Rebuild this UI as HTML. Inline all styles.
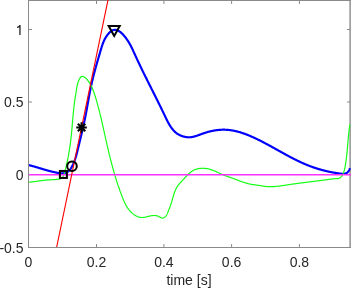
<!DOCTYPE html>
<html><head><meta charset="utf-8"><style>
html,body{margin:0;padding:0;background:#fff;width:351px;height:288px;overflow:hidden}
svg{display:block}
.t{will-change:transform}
text{font-family:"Liberation Sans",sans-serif;font-size:14px;fill:#262626}
</style></head><body>
<svg width="351" height="288" viewBox="0 0 351 288">
<defs><clipPath id="c"><rect x="29" y="0" width="322" height="247.5"/></clipPath></defs>
<g stroke="#8a8a8a" stroke-width="1" fill="none">
<path d="M28.5,0 V248 M28,0.5 H351 M28,247.5 H351"/>
<path d="M350.1,0 V248" stroke-width="1.4"/>
<path d="M96.5,247 V244 M163.9,247 V244 M231.6,247 V244 M299.4,247 V244"/>
<path d="M96.5,1 V4 M163.9,1 V4 M231.6,1 V4 M299.4,1 V4"/>
<path d="M29,29.5 H32 M29,102 H32 M29,174.5 H32"/>
<path d="M350,29.5 H347 M350,102 H347 M350,174.5 H347"/>
</g>
<g clip-path="url(#c)">
<path d="M27.41,164.74 L27.82,164.84 L28.23,164.94 L28.64,165.04 L29.05,165.15 L29.45,165.25 L29.85,165.35 L30.25,165.46 L30.65,165.56 L31.05,165.67 L31.44,165.77 L31.84,165.88 L32.23,165.99 L32.62,166.10 L33.01,166.20 L33.40,166.31 L33.78,166.42 L34.17,166.53 L34.55,166.64 L34.93,166.75 L35.32,166.86 L35.70,166.97 L36.08,167.08 L36.45,167.20 L36.83,167.31 L37.21,167.42 L37.58,167.53 L37.96,167.64 L38.34,167.75 L38.71,167.87 L39.08,167.98 L39.46,168.09 L39.83,168.20 L40.20,168.32 L40.58,168.43 L40.95,168.54 L41.32,168.65 L41.69,168.76 L42.07,168.87 L42.44,168.99 L42.81,169.10 L43.18,169.21 L43.56,169.32 L43.93,169.43 L44.31,169.54 L44.68,169.65 L45.05,169.76 L45.43,169.87 L45.81,169.98 L46.18,170.08 L46.56,170.19 L46.94,170.30 L47.32,170.40 L47.70,170.51 L48.08,170.61 L48.46,170.72 L48.85,170.82 L49.23,170.93 L49.62,171.03 L50.00,171.13 L50.39,171.23 L50.78,171.33 L51.17,171.43 L51.57,171.53 L51.96,171.63 L52.36,171.72 L52.76,171.82 L53.16,171.91 L53.56,172.01 L53.96,172.10 L54.37,172.19 L54.78,172.28 L55.19,172.37 L55.60,172.46 L56.01,172.55 L56.43,172.63 L56.84,172.71 L57.26,172.79 L57.67,172.86 L58.09,172.93 L58.51,173.00 L58.92,173.06 L59.34,173.11 L59.75,173.16 L60.16,173.20 L60.57,173.23 L60.98,173.26 L61.39,173.28 L61.79,173.29 L62.19,173.29 L62.59,173.28 L62.98,173.26 L63.37,173.23 L63.75,173.19 L64.13,173.14 L64.50,173.07 L64.87,173.00 L65.23,172.91 L65.59,172.81 L65.94,172.69 L66.29,172.56 L66.62,172.41 L66.95,172.25 L67.27,172.08 L67.59,171.88 L67.89,171.67 L68.19,171.45 L68.48,171.21 L68.77,170.95 L69.04,170.69 L69.31,170.41 L69.57,170.11 L69.82,169.81 L70.07,169.50 L70.31,169.18 L70.55,168.85 L70.78,168.51 L71.00,168.16 L71.22,167.81 L71.43,167.45 L71.64,167.09 L71.84,166.73 L72.04,166.36 L72.23,166.00 L72.42,165.63 L72.60,165.26 L72.78,164.89 L72.96,164.52 L73.13,164.15 L73.30,163.77 L73.47,163.40 L73.63,163.03 L73.79,162.65 L73.94,162.28 L74.10,161.90 L74.24,161.53 L74.39,161.15 L74.53,160.77 L74.67,160.40 L74.81,160.02 L74.94,159.64 L75.07,159.26 L75.20,158.88 L75.32,158.50 L75.45,158.12 L75.57,157.74 L75.69,157.36 L75.80,156.98 L75.92,156.59 L76.03,156.21 L76.14,155.83 L76.25,155.45 L76.36,155.06 L76.46,154.68 L76.57,154.29 L76.67,153.91 L76.77,153.53 L76.87,153.14 L76.97,152.76 L77.07,152.37 L77.17,151.98 L77.26,151.60 L77.36,151.21 L77.45,150.83 L77.55,150.44 L77.64,150.05 L77.74,149.67 L77.83,149.28 L77.92,148.89 L78.01,148.51 L78.11,148.12 L78.20,147.73 L78.29,147.35 L78.39,146.96 L78.48,146.57 L78.57,146.19 L78.67,145.80 L78.76,145.41 L78.85,145.02 L78.95,144.64 L79.04,144.25 L79.14,143.86 L79.23,143.47 L79.32,143.09 L79.42,142.70 L79.51,142.31 L79.61,141.92 L79.70,141.53 L79.79,141.15 L79.89,140.76 L79.98,140.37 L80.07,139.98 L80.17,139.59 L80.26,139.21 L80.36,138.82 L80.45,138.43 L80.54,138.04 L80.64,137.65 L80.73,137.26 L80.82,136.88 L80.92,136.49 L81.01,136.10 L81.10,135.71 L81.19,135.32 L81.29,134.93 L81.38,134.54 L81.47,134.15 L81.56,133.76 L81.66,133.38 L81.75,132.99 L81.84,132.60 L81.93,132.21 L82.02,131.82 L82.11,131.43 L82.20,131.04 L82.29,130.65 L82.39,130.26 L82.48,129.87 L82.57,129.48 L82.65,129.09 L82.74,128.70 L82.83,128.31 L82.92,127.92 L83.01,127.53 L83.10,127.14 L83.19,126.75 L83.28,126.36 L83.36,125.97 L83.45,125.58 L83.54,125.18 L83.62,124.79 L83.71,124.40 L83.79,124.01 L83.88,123.62 L83.97,123.23 L84.05,122.84 L84.13,122.45 L84.22,122.05 L84.30,121.66 L84.38,121.27 L84.47,120.88 L84.55,120.49 L84.63,120.09 L84.71,119.70 L84.79,119.31 L84.87,118.92 L84.95,118.53 L85.03,118.13 L85.11,117.74 L85.19,117.35 L85.27,116.95 L85.35,116.56 L85.43,116.17 L85.50,115.78 L85.58,115.38 L85.66,114.99 L85.73,114.60 L85.81,114.20 L85.88,113.81 L85.96,113.42 L86.03,113.02 L86.11,112.63 L86.18,112.23 L86.25,111.84 L86.33,111.45 L86.40,111.05 L86.47,110.66 L86.54,110.27 L86.62,109.87 L86.69,109.48 L86.76,109.08 L86.83,108.69 L86.90,108.30 L86.98,107.90 L87.05,107.51 L87.12,107.11 L87.19,106.72 L87.26,106.32 L87.33,105.93 L87.40,105.54 L87.47,105.14 L87.54,104.75 L87.61,104.35 L87.68,103.96 L87.75,103.57 L87.83,103.17 L87.90,102.78 L87.97,102.38 L88.04,101.99 L88.11,101.59 L88.18,101.20 L88.25,100.81 L88.32,100.41 L88.39,100.02 L88.46,99.62 L88.53,99.23 L88.60,98.84 L88.68,98.44 L88.75,98.05 L88.82,97.66 L88.89,97.26 L88.96,96.87 L89.04,96.47 L89.11,96.08 L89.18,95.69 L89.25,95.29 L89.33,94.90 L89.40,94.51 L89.47,94.11 L89.55,93.72 L89.62,93.33 L89.70,92.94 L89.77,92.54 L89.85,92.15 L89.92,91.76 L90.00,91.36 L90.08,90.97 L90.15,90.58 L90.23,90.19 L90.31,89.80 L90.39,89.40 L90.47,89.01 L90.54,88.62 L90.62,88.23 L90.70,87.84 L90.78,87.45 L90.87,87.05 L90.95,86.66 L91.03,86.27 L91.11,85.88 L91.20,85.49 L91.28,85.10 L91.36,84.71 L91.45,84.32 L91.53,83.93 L91.62,83.54 L91.71,83.15 L91.79,82.76 L91.88,82.37 L91.97,81.98 L92.06,81.59 L92.15,81.20 L92.24,80.81 L92.33,80.43 L92.43,80.04 L92.52,79.65 L92.61,79.26 L92.71,78.87 L92.80,78.48 L92.90,78.10 L92.99,77.71 L93.09,77.32 L93.18,76.93 L93.28,76.55 L93.38,76.16 L93.48,75.77 L93.58,75.39 L93.68,75.00 L93.78,74.61 L93.88,74.23 L93.98,73.84 L94.08,73.45 L94.18,73.07 L94.29,72.68 L94.39,72.30 L94.49,71.91 L94.59,71.52 L94.70,71.14 L94.80,70.75 L94.91,70.37 L95.01,69.98 L95.12,69.60 L95.23,69.21 L95.33,68.83 L95.44,68.44 L95.54,68.06 L95.65,67.67 L95.76,67.29 L95.87,66.90 L95.98,66.52 L96.08,66.13 L96.19,65.75 L96.30,65.36 L96.41,64.98 L96.52,64.59 L96.63,64.21 L96.74,63.82 L96.85,63.44 L96.96,63.05 L97.07,62.67 L97.18,62.28 L97.29,61.90 L97.40,61.52 L97.51,61.13 L97.62,60.75 L97.74,60.36 L97.85,59.98 L97.96,59.59 L98.07,59.21 L98.18,58.82 L98.29,58.44 L98.40,58.05 L98.52,57.67 L98.63,57.28 L98.74,56.90 L98.85,56.52 L98.96,56.13 L99.07,55.75 L99.19,55.36 L99.30,54.98 L99.41,54.59 L99.52,54.21 L99.63,53.82 L99.74,53.44 L99.85,53.05 L99.97,52.67 L100.08,52.28 L100.19,51.89 L100.30,51.51 L100.41,51.12 L100.52,50.74 L100.63,50.35 L100.74,49.97 L100.86,49.58 L100.97,49.20 L101.08,48.81 L101.20,48.43 L101.32,48.05 L101.43,47.66 L101.55,47.28 L101.67,46.90 L101.79,46.52 L101.92,46.14 L102.04,45.76 L102.17,45.38 L102.30,45.00 L102.44,44.62 L102.57,44.24 L102.71,43.87 L102.85,43.49 L102.99,43.12 L103.14,42.75 L103.29,42.38 L103.45,42.01 L103.60,41.64 L103.76,41.27 L103.93,40.90 L104.10,40.54 L104.27,40.18 L104.45,39.81 L104.63,39.45 L104.81,39.10 L105.00,38.74 L105.20,38.38 L105.40,38.03 L105.60,37.68 L105.81,37.33 L106.03,36.98 L106.25,36.64 L106.47,36.29 L106.71,35.95 L106.94,35.61 L107.19,35.28 L107.44,34.94 L107.69,34.61 L107.96,34.28 L108.22,33.96 L108.50,33.65 L108.77,33.34 L109.05,33.03 L109.34,32.74 L109.63,32.45 L109.93,32.18 L110.23,31.92 L110.53,31.66 L110.84,31.42 L111.15,31.20 L111.46,30.98 L111.78,30.78 L112.10,30.60 L112.42,30.44 L112.74,30.29 L113.07,30.16 L113.40,30.05 L113.73,29.96 L114.06,29.89 L114.39,29.84 L114.72,29.82 L115.06,29.81 L115.39,29.83 L115.73,29.86 L116.07,29.92 L116.40,29.99 L116.74,30.09 L117.08,30.20 L117.41,30.32 L117.75,30.47 L118.08,30.63 L118.42,30.80 L118.75,30.99 L119.08,31.19 L119.41,31.40 L119.74,31.63 L120.07,31.87 L120.40,32.12 L120.72,32.38 L121.04,32.65 L121.36,32.93 L121.68,33.22 L121.99,33.52 L122.30,33.82 L122.61,34.13 L122.92,34.45 L123.22,34.77 L123.52,35.09 L123.81,35.43 L124.10,35.76 L124.39,36.10 L124.67,36.44 L124.95,36.78 L125.22,37.12 L125.49,37.46 L125.75,37.81 L126.01,38.15 L126.27,38.50 L126.52,38.84 L126.76,39.19 L127.01,39.53 L127.25,39.88 L127.48,40.23 L127.71,40.58 L127.94,40.93 L128.16,41.28 L128.38,41.63 L128.60,41.98 L128.81,42.33 L129.03,42.68 L129.23,43.03 L129.44,43.39 L129.64,43.74 L129.84,44.09 L130.04,44.45 L130.23,44.80 L130.42,45.15 L130.61,45.51 L130.80,45.86 L130.98,46.22 L131.16,46.57 L131.34,46.93 L131.52,47.29 L131.70,47.64 L131.88,48.00 L132.05,48.36 L132.22,48.71 L132.39,49.07 L132.56,49.43 L132.73,49.79 L132.90,50.14 L133.07,50.50 L133.23,50.86 L133.40,51.22 L133.56,51.58 L133.72,51.94 L133.89,52.29 L134.05,52.65 L134.21,53.01 L134.38,53.37 L134.54,53.73 L134.70,54.09 L134.86,54.44 L135.03,54.80 L135.19,55.16 L135.35,55.52 L135.52,55.88 L135.68,56.23 L135.84,56.59 L136.01,56.95 L136.17,57.31 L136.34,57.67 L136.50,58.02 L136.67,58.38 L136.83,58.74 L137.00,59.10 L137.17,59.45 L137.33,59.81 L137.50,60.17 L137.67,60.53 L137.84,60.88 L138.00,61.24 L138.17,61.60 L138.34,61.96 L138.51,62.31 L138.68,62.67 L138.85,63.03 L139.02,63.38 L139.19,63.74 L139.36,64.10 L139.53,64.46 L139.70,64.81 L139.87,65.17 L140.04,65.53 L140.21,65.88 L140.38,66.24 L140.55,66.60 L140.72,66.95 L140.89,67.31 L141.07,67.67 L141.24,68.02 L141.41,68.38 L141.58,68.74 L141.76,69.09 L141.93,69.45 L142.10,69.81 L142.28,70.16 L142.45,70.52 L142.62,70.88 L142.80,71.23 L142.97,71.59 L143.15,71.95 L143.32,72.30 L143.50,72.66 L143.67,73.02 L143.85,73.37 L144.02,73.73 L144.20,74.09 L144.37,74.44 L144.55,74.80 L144.72,75.16 L144.90,75.51 L145.08,75.87 L145.25,76.23 L145.43,76.58 L145.61,76.94 L145.78,77.30 L145.96,77.65 L146.14,78.01 L146.31,78.37 L146.49,78.72 L146.67,79.08 L146.85,79.44 L147.02,79.79 L147.20,80.15 L147.38,80.51 L147.56,80.86 L147.73,81.22 L147.91,81.58 L148.09,81.94 L148.27,82.29 L148.45,82.65 L148.63,83.01 L148.81,83.36 L148.98,83.72 L149.16,84.08 L149.34,84.44 L149.52,84.79 L149.70,85.15 L149.88,85.51 L150.06,85.87 L150.24,86.22 L150.42,86.58 L150.60,86.94 L150.78,87.30 L150.96,87.66 L151.14,88.01 L151.31,88.37 L151.49,88.73 L151.67,89.09 L151.85,89.45 L152.03,89.80 L152.21,90.16 L152.39,90.52 L152.57,90.88 L152.75,91.24 L152.93,91.60 L153.11,91.96 L153.29,92.31 L153.47,92.67 L153.65,93.03 L153.83,93.39 L154.01,93.75 L154.19,94.11 L154.37,94.47 L154.55,94.83 L154.73,95.19 L154.91,95.55 L155.09,95.91 L155.27,96.27 L155.45,96.63 L155.63,96.99 L155.81,97.35 L155.99,97.71 L156.17,98.07 L156.35,98.43 L156.53,98.79 L156.71,99.15 L156.89,99.51 L157.07,99.87 L157.25,100.23 L157.43,100.59 L157.61,100.95 L157.79,101.31 L157.97,101.68 L158.15,102.04 L158.33,102.40 L158.51,102.76 L158.69,103.12 L158.87,103.48 L159.05,103.85 L159.23,104.21 L159.41,104.57 L159.59,104.93 L159.76,105.30 L159.94,105.66 L160.12,106.02 L160.30,106.38 L160.48,106.75 L160.66,107.11 L160.84,107.47 L161.01,107.84 L161.19,108.20 L161.37,108.57 L161.55,108.93 L161.73,109.29 L161.90,109.66 L162.08,110.02 L162.26,110.39 L162.44,110.75 L162.61,111.12 L162.79,111.48 L162.97,111.85 L163.14,112.21 L163.32,112.58 L163.50,112.94 L163.67,113.31 L163.85,113.67 L164.03,114.04 L164.20,114.41 L164.38,114.77 L164.55,115.14 L164.73,115.51 L164.90,115.87 L165.08,116.24 L165.25,116.61 L165.43,116.98 L165.61,117.34 L165.78,117.71 L165.96,118.08 L166.13,118.44 L166.31,118.81 L166.49,119.17 L166.67,119.54 L166.85,119.90 L167.03,120.26 L167.21,120.62 L167.39,120.98 L167.57,121.34 L167.76,121.70 L167.94,122.06 L168.13,122.41 L168.32,122.76 L168.51,123.11 L168.71,123.46 L168.90,123.81 L169.10,124.16 L169.30,124.50 L169.50,124.84 L169.70,125.18 L169.91,125.51 L170.12,125.85 L170.33,126.18 L170.54,126.51 L170.76,126.83 L170.98,127.15 L171.20,127.47 L171.43,127.79 L171.66,128.10 L171.89,128.41 L172.13,128.72 L172.37,129.02 L172.61,129.32 L172.86,129.61 L173.11,129.90 L173.36,130.19 L173.62,130.47 L173.88,130.75 L174.15,131.03 L174.42,131.30 L174.70,131.56 L174.98,131.82 L175.27,132.08 L175.56,132.33 L175.85,132.58 L176.15,132.82 L176.45,133.06 L176.76,133.29 L177.08,133.52 L177.40,133.74 L177.73,133.95 L178.06,134.16 L178.39,134.37 L178.74,134.57 L179.09,134.76 L179.44,134.94 L179.80,135.13 L180.17,135.30 L180.54,135.47 L180.92,135.63 L181.30,135.78 L181.69,135.93 L182.08,136.07 L182.48,136.21 L182.87,136.33 L183.28,136.45 L183.68,136.57 L184.09,136.67 L184.50,136.77 L184.91,136.86 L185.32,136.94 L185.73,137.01 L186.14,137.07 L186.55,137.13 L186.97,137.18 L187.38,137.22 L187.79,137.25 L188.19,137.27 L188.60,137.28 L189.00,137.28 L189.40,137.27 L189.80,137.26 L190.20,137.23 L190.59,137.20 L190.98,137.16 L191.37,137.11 L191.76,137.06 L192.15,136.99 L192.53,136.93 L192.92,136.85 L193.30,136.77 L193.68,136.68 L194.06,136.59 L194.44,136.49 L194.81,136.39 L195.19,136.28 L195.56,136.17 L195.94,136.05 L196.31,135.93 L196.68,135.81 L197.06,135.68 L197.43,135.55 L197.80,135.42 L198.17,135.29 L198.54,135.15 L198.92,135.02 L199.29,134.88 L199.66,134.74 L200.03,134.60 L200.40,134.46 L200.78,134.32 L201.15,134.18 L201.53,134.04 L201.90,133.90 L202.28,133.76 L202.65,133.62 L203.03,133.48 L203.41,133.35 L203.79,133.22 L204.17,133.09 L204.55,132.96 L204.94,132.84 L205.32,132.71 L205.71,132.59 L206.09,132.47 L206.48,132.36 L206.87,132.24 L207.26,132.13 L207.65,132.02 L208.04,131.91 L208.43,131.80 L208.82,131.70 L209.22,131.60 L209.61,131.50 L210.00,131.40 L210.40,131.31 L210.80,131.22 L211.19,131.13 L211.59,131.04 L211.99,130.96 L212.38,130.88 L212.78,130.80 L213.18,130.72 L213.58,130.65 L213.98,130.58 L214.38,130.51 L214.78,130.44 L215.18,130.38 L215.58,130.32 L215.98,130.26 L216.38,130.20 L216.78,130.15 L217.19,130.10 L217.59,130.05 L217.99,130.01 L218.39,129.97 L218.79,129.93 L219.19,129.90 L219.60,129.86 L220.00,129.83 L220.40,129.81 L220.80,129.78 L221.20,129.76 L221.60,129.75 L222.00,129.73 L222.40,129.72 L222.80,129.71 L223.20,129.71 L223.60,129.71 L224.00,129.71 L224.40,129.71 L224.80,129.72 L225.20,129.73 L225.60,129.75 L225.99,129.76 L226.39,129.79 L226.79,129.81 L227.18,129.84 L227.58,129.87 L227.97,129.90 L228.37,129.94 L228.76,129.98 L229.15,130.02 L229.55,130.06 L229.94,130.11 L230.33,130.16 L230.73,130.22 L231.12,130.27 L231.51,130.33 L231.90,130.39 L232.29,130.46 L232.68,130.52 L233.07,130.59 L233.46,130.67 L233.85,130.74 L234.23,130.82 L234.62,130.90 L235.01,130.98 L235.39,131.07 L235.78,131.15 L236.17,131.24 L236.55,131.34 L236.94,131.43 L237.32,131.53 L237.71,131.63 L238.09,131.73 L238.47,131.83 L238.86,131.94 L239.24,132.05 L239.62,132.16 L240.00,132.27 L240.38,132.38 L240.76,132.50 L241.14,132.61 L241.52,132.73 L241.90,132.86 L242.28,132.98 L242.66,133.11 L243.04,133.23 L243.41,133.36 L243.79,133.49 L244.17,133.63 L244.54,133.76 L244.92,133.90 L245.29,134.03 L245.67,134.17 L246.04,134.31 L246.42,134.46 L246.79,134.60 L247.16,134.75 L247.54,134.89 L247.91,135.04 L248.28,135.19 L248.65,135.34 L249.02,135.49 L249.39,135.65 L249.76,135.80 L250.13,135.96 L250.50,136.12 L250.87,136.27 L251.24,136.43 L251.61,136.59 L251.97,136.76 L252.34,136.92 L252.71,137.08 L253.07,137.25 L253.44,137.41 L253.80,137.58 L254.17,137.75 L254.53,137.91 L254.89,138.08 L255.26,138.25 L255.62,138.42 L255.98,138.60 L256.35,138.77 L256.71,138.94 L257.07,139.12 L257.43,139.29 L257.79,139.47 L258.15,139.64 L258.51,139.82 L258.87,139.99 L259.23,140.17 L259.58,140.35 L259.94,140.53 L260.30,140.71 L260.66,140.89 L261.01,141.07 L261.37,141.25 L261.73,141.44 L262.08,141.62 L262.44,141.80 L262.80,141.99 L263.15,142.17 L263.51,142.35 L263.86,142.54 L264.21,142.73 L264.57,142.91 L264.92,143.10 L265.28,143.29 L265.63,143.47 L265.98,143.66 L266.33,143.85 L266.69,144.04 L267.04,144.23 L267.39,144.42 L267.74,144.61 L268.10,144.80 L268.45,144.99 L268.80,145.18 L269.15,145.37 L269.50,145.56 L269.85,145.75 L270.20,145.95 L270.55,146.14 L270.90,146.33 L271.25,146.52 L271.60,146.72 L271.95,146.91 L272.30,147.10 L272.65,147.30 L273.00,147.49 L273.35,147.69 L273.70,147.88 L274.05,148.07 L274.40,148.27 L274.75,148.46 L275.10,148.66 L275.45,148.85 L275.79,149.05 L276.14,149.24 L276.49,149.44 L276.84,149.63 L277.19,149.83 L277.54,150.02 L277.89,150.21 L278.24,150.41 L278.59,150.60 L278.93,150.80 L279.28,150.99 L279.63,151.19 L279.98,151.38 L280.33,151.58 L280.68,151.77 L281.03,151.97 L281.38,152.16 L281.72,152.35 L282.07,152.55 L282.42,152.74 L282.77,152.93 L283.12,153.13 L283.47,153.32 L283.82,153.51 L284.17,153.71 L284.52,153.90 L284.87,154.09 L285.22,154.28 L285.57,154.47 L285.92,154.66 L286.27,154.86 L286.62,155.05 L286.97,155.24 L287.32,155.43 L287.67,155.62 L288.02,155.80 L288.38,155.99 L288.73,156.18 L289.08,156.37 L289.43,156.56 L289.78,156.74 L290.14,156.93 L290.49,157.12 L290.84,157.30 L291.19,157.49 L291.55,157.67 L291.90,157.86 L292.26,158.04 L292.61,158.22 L292.96,158.41 L293.32,158.59 L293.67,158.77 L294.03,158.95 L294.38,159.13 L294.74,159.31 L295.10,159.49 L295.45,159.67 L295.81,159.84 L296.17,160.02 L296.53,160.20 L296.88,160.37 L297.24,160.55 L297.60,160.72 L297.96,160.90 L298.32,161.07 L298.68,161.24 L299.04,161.41 L299.40,161.58 L299.76,161.75 L300.12,161.92 L300.48,162.09 L300.84,162.26 L301.21,162.42 L301.57,162.59 L301.93,162.75 L302.30,162.92 L302.66,163.08 L303.03,163.24 L303.39,163.40 L303.76,163.56 L304.12,163.72 L304.49,163.88 L304.86,164.04 L305.23,164.20 L305.59,164.35 L305.96,164.51 L306.33,164.66 L306.70,164.81 L307.07,164.96 L307.44,165.11 L307.81,165.26 L308.19,165.41 L308.56,165.56 L308.93,165.70 L309.31,165.85 L309.68,165.99 L310.06,166.13 L310.43,166.28 L310.81,166.42 L311.18,166.55 L311.56,166.69 L311.94,166.83 L312.32,166.97 L312.70,167.10 L313.07,167.23 L313.45,167.36 L313.83,167.50 L314.22,167.63 L314.60,167.75 L314.98,167.88 L315.36,168.01 L315.74,168.13 L316.13,168.26 L316.51,168.38 L316.89,168.50 L317.28,168.62 L317.66,168.74 L318.05,168.86 L318.43,168.98 L318.82,169.09 L319.21,169.21 L319.59,169.32 L319.98,169.43 L320.37,169.54 L320.75,169.65 L321.14,169.76 L321.53,169.87 L321.92,169.98 L322.31,170.08 L322.70,170.19 L323.09,170.29 L323.48,170.39 L323.87,170.49 L324.26,170.59 L324.65,170.69 L325.04,170.79 L325.43,170.88 L325.82,170.98 L326.21,171.07 L326.60,171.16 L326.99,171.25 L327.38,171.34 L327.78,171.43 L328.17,171.52 L328.56,171.60 L328.95,171.69 L329.34,171.77 L329.74,171.85 L330.13,171.94 L330.52,172.02 L330.91,172.09 L331.31,172.17 L331.70,172.25 L332.09,172.32 L332.49,172.40 L332.88,172.47 L333.27,172.54 L333.66,172.61 L334.06,172.68 L334.45,172.75 L334.84,172.82 L335.24,172.88 L335.63,172.94 L336.02,173.01 L336.41,173.07 L336.81,173.13 L337.20,173.19 L337.59,173.25 L337.98,173.30 L338.38,173.36 L338.77,173.41 L339.16,173.47 L339.55,173.52 L339.94,173.57 L340.34,173.62 L340.73,173.67 L341.12,173.71 L341.51,173.75 L341.89,173.78 L342.28,173.81 L342.66,173.82 L343.04,173.83 L343.41,173.82 L343.78,173.80 L344.15,173.77 L344.51,173.72 L344.87,173.65 L345.22,173.57 L345.57,173.46 L345.91,173.34 L346.24,173.19 L346.56,173.01 L346.88,172.82 L347.18,172.59 L347.48,172.34 L347.77,172.06 L348.05,171.76 L348.32,171.42 L348.58,171.06 L348.83,170.67 L349.06,170.25 L349.29,169.80 L349.50,169.32 L349.69,168.81 L349.88,168.28 L349.91,168.19" fill="none" stroke="#0000ff" stroke-width="2.2" stroke-linejoin="round"/>
<path d="M27.51,182.42 L27.90,182.38 L28.29,182.34 L28.69,182.30 L29.08,182.26 L29.47,182.21 L29.87,182.17 L30.26,182.12 L30.66,182.07 L31.05,182.02 L31.45,181.97 L31.84,181.92 L32.24,181.87 L32.64,181.82 L33.03,181.76 L33.43,181.71 L33.83,181.66 L34.23,181.60 L34.62,181.55 L35.02,181.49 L35.42,181.44 L35.82,181.38 L36.22,181.33 L36.62,181.27 L37.02,181.22 L37.41,181.16 L37.81,181.11 L38.21,181.05 L38.61,181.00 L39.01,180.94 L39.41,180.89 L39.81,180.84 L40.21,180.78 L40.61,180.73 L41.01,180.68 L41.41,180.63 L41.81,180.58 L42.21,180.53 L42.61,180.48 L43.01,180.43 L43.40,180.39 L43.80,180.34 L44.20,180.30 L44.60,180.25 L45.00,180.21 L45.40,180.17 L45.79,180.13 L46.19,180.10 L46.59,180.06 L46.98,180.03 L47.38,179.99 L47.78,179.96 L48.17,179.93 L48.57,179.91 L48.96,179.88 L49.36,179.86 L49.75,179.84 L50.14,179.82 L50.54,179.80 L50.93,179.78 L51.33,179.76 L51.72,179.74 L52.12,179.73 L52.51,179.71 L52.91,179.69 L53.30,179.67 L53.70,179.65 L54.10,179.63 L54.50,179.60 L54.90,179.58 L55.30,179.55 L55.70,179.52 L56.10,179.48 L56.51,179.44 L56.92,179.40 L57.33,179.36 L57.74,179.31 L58.15,179.26 L58.56,179.20 L58.97,179.13 L59.38,179.06 L59.78,178.96 L60.16,178.85 L60.54,178.72 L60.89,178.57 L61.22,178.39 L61.53,178.18 L61.83,177.95 L62.10,177.70 L62.35,177.42 L62.59,177.12 L62.81,176.81 L63.02,176.48 L63.21,176.13 L63.39,175.78 L63.56,175.40 L63.71,175.02 L63.86,174.64 L64.00,174.24 L64.14,173.84 L64.27,173.44 L64.39,173.03 L64.51,172.63 L64.62,172.22 L64.74,171.82 L64.85,171.43 L64.96,171.03 L65.07,170.63 L65.18,170.24 L65.28,169.85 L65.39,169.46 L65.49,169.07 L65.59,168.68 L65.69,168.29 L65.78,167.91 L65.88,167.52 L65.98,167.14 L66.07,166.75 L66.16,166.37 L66.25,165.99 L66.34,165.60 L66.43,165.22 L66.52,164.84 L66.61,164.45 L66.70,164.07 L66.78,163.68 L66.87,163.30 L66.95,162.91 L67.04,162.52 L67.12,162.14 L67.21,161.75 L67.29,161.36 L67.37,160.98 L67.45,160.59 L67.53,160.20 L67.61,159.81 L67.69,159.42 L67.77,159.03 L67.85,158.64 L67.92,158.25 L68.00,157.86 L68.08,157.47 L68.15,157.08 L68.23,156.69 L68.30,156.30 L68.37,155.90 L68.45,155.51 L68.52,155.12 L68.59,154.73 L68.66,154.33 L68.73,153.94 L68.80,153.55 L68.87,153.15 L68.93,152.76 L69.00,152.36 L69.07,151.97 L69.13,151.57 L69.20,151.18 L69.26,150.78 L69.33,150.39 L69.39,149.99 L69.45,149.60 L69.52,149.20 L69.58,148.81 L69.64,148.41 L69.70,148.01 L69.76,147.62 L69.82,147.22 L69.88,146.82 L69.93,146.43 L69.99,146.03 L70.05,145.63 L70.10,145.23 L70.16,144.84 L70.21,144.44 L70.27,144.04 L70.32,143.64 L70.37,143.25 L70.42,142.85 L70.48,142.45 L70.53,142.05 L70.58,141.65 L70.63,141.26 L70.68,140.86 L70.72,140.46 L70.77,140.06 L70.82,139.66 L70.87,139.26 L70.91,138.87 L70.96,138.47 L71.00,138.07 L71.05,137.67 L71.09,137.27 L71.13,136.87 L71.18,136.47 L71.22,136.08 L71.26,135.68 L71.30,135.28 L71.34,134.88 L71.38,134.48 L71.42,134.08 L71.46,133.68 L71.50,133.29 L71.54,132.89 L71.58,132.49 L71.62,132.09 L71.66,131.69 L71.70,131.29 L71.73,130.89 L71.77,130.50 L71.81,130.10 L71.84,129.70 L71.88,129.30 L71.92,128.90 L71.95,128.50 L71.99,128.10 L72.02,127.71 L72.06,127.31 L72.09,126.91 L72.13,126.51 L72.16,126.11 L72.20,125.71 L72.23,125.31 L72.27,124.92 L72.30,124.52 L72.33,124.12 L72.37,123.72 L72.40,123.32 L72.44,122.92 L72.47,122.52 L72.51,122.13 L72.54,121.73 L72.57,121.33 L72.61,120.93 L72.64,120.53 L72.68,120.13 L72.71,119.74 L72.75,119.34 L72.78,118.94 L72.82,118.54 L72.85,118.14 L72.89,117.75 L72.92,117.35 L72.96,116.95 L72.99,116.55 L73.03,116.15 L73.07,115.76 L73.10,115.36 L73.14,114.96 L73.18,114.56 L73.21,114.16 L73.25,113.77 L73.29,113.37 L73.33,112.97 L73.36,112.57 L73.40,112.18 L73.44,111.78 L73.48,111.38 L73.52,110.98 L73.56,110.59 L73.60,110.19 L73.64,109.79 L73.69,109.40 L73.73,109.00 L73.77,108.60 L73.81,108.20 L73.86,107.81 L73.90,107.41 L73.95,107.01 L73.99,106.62 L74.04,106.22 L74.08,105.82 L74.13,105.43 L74.18,105.03 L74.23,104.63 L74.28,104.24 L74.32,103.84 L74.37,103.45 L74.43,103.05 L74.48,102.65 L74.53,102.26 L74.58,101.86 L74.64,101.47 L74.69,101.07 L74.75,100.68 L74.80,100.28 L74.86,99.88 L74.92,99.49 L74.97,99.09 L75.03,98.70 L75.09,98.30 L75.15,97.91 L75.21,97.51 L75.27,97.12 L75.34,96.72 L75.40,96.33 L75.46,95.93 L75.52,95.54 L75.59,95.14 L75.65,94.75 L75.71,94.35 L75.78,93.96 L75.84,93.56 L75.91,93.17 L75.97,92.77 L76.04,92.38 L76.10,91.98 L76.17,91.59 L76.23,91.19 L76.30,90.80 L76.36,90.40 L76.43,90.01 L76.49,89.61 L76.56,89.21 L76.62,88.82 L76.69,88.42 L76.75,88.03 L76.82,87.63 L76.89,87.24 L76.96,86.84 L77.04,86.45 L77.12,86.05 L77.20,85.66 L77.28,85.27 L77.37,84.88 L77.46,84.49 L77.56,84.10 L77.66,83.71 L77.76,83.33 L77.87,82.94 L77.99,82.56 L78.12,82.18 L78.25,81.80 L78.38,81.42 L78.53,81.04 L78.68,80.67 L78.84,80.30 L79.00,79.93 L79.18,79.56 L79.36,79.19 L79.55,78.83 L79.76,78.47 L79.97,78.12 L80.20,77.79 L80.44,77.49 L80.69,77.21 L80.97,76.96 L81.25,76.76 L81.56,76.59 L81.89,76.48 L82.24,76.43 L82.61,76.43 L82.99,76.49 L83.38,76.59 L83.76,76.74 L84.14,76.92 L84.50,77.14 L84.86,77.38 L85.21,77.64 L85.54,77.93 L85.86,78.22 L86.17,78.52 L86.46,78.82 L86.75,79.12 L87.02,79.42 L87.28,79.73 L87.53,80.04 L87.78,80.36 L88.02,80.67 L88.26,80.99 L88.49,81.31 L88.71,81.63 L88.94,81.96 L89.16,82.29 L89.37,82.62 L89.58,82.95 L89.79,83.29 L89.99,83.63 L90.19,83.97 L90.38,84.31 L90.57,84.66 L90.76,85.01 L90.94,85.36 L91.12,85.71 L91.30,86.06 L91.47,86.42 L91.65,86.77 L91.81,87.13 L91.98,87.49 L92.14,87.86 L92.30,88.22 L92.46,88.58 L92.61,88.95 L92.76,89.32 L92.91,89.69 L93.06,90.06 L93.20,90.43 L93.34,90.81 L93.48,91.18 L93.62,91.56 L93.76,91.93 L93.89,92.31 L94.02,92.69 L94.15,93.07 L94.28,93.45 L94.41,93.83 L94.54,94.21 L94.66,94.59 L94.78,94.97 L94.91,95.36 L95.03,95.74 L95.15,96.12 L95.27,96.51 L95.39,96.89 L95.50,97.28 L95.62,97.66 L95.74,98.05 L95.85,98.43 L95.97,98.82 L96.08,99.20 L96.20,99.59 L96.31,99.97 L96.42,100.36 L96.53,100.74 L96.65,101.13 L96.76,101.51 L96.87,101.90 L96.98,102.29 L97.08,102.67 L97.19,103.06 L97.30,103.44 L97.41,103.83 L97.52,104.22 L97.62,104.60 L97.73,104.99 L97.83,105.38 L97.94,105.76 L98.04,106.15 L98.15,106.54 L98.25,106.92 L98.35,107.31 L98.45,107.70 L98.56,108.09 L98.66,108.47 L98.76,108.86 L98.86,109.25 L98.96,109.64 L99.06,110.02 L99.16,110.41 L99.26,110.80 L99.35,111.19 L99.45,111.58 L99.55,111.96 L99.65,112.35 L99.74,112.74 L99.84,113.13 L99.94,113.52 L100.03,113.91 L100.13,114.29 L100.22,114.68 L100.32,115.07 L100.41,115.46 L100.50,115.85 L100.60,116.24 L100.69,116.63 L100.78,117.02 L100.88,117.41 L100.97,117.79 L101.06,118.18 L101.15,118.57 L101.24,118.96 L101.33,119.35 L101.43,119.74 L101.52,120.13 L101.61,120.52 L101.70,120.91 L101.79,121.30 L101.88,121.69 L101.97,122.08 L102.05,122.47 L102.14,122.86 L102.23,123.25 L102.32,123.64 L102.41,124.03 L102.50,124.42 L102.59,124.80 L102.67,125.19 L102.76,125.58 L102.85,125.97 L102.94,126.36 L103.02,126.75 L103.11,127.14 L103.20,127.53 L103.29,127.92 L103.37,128.31 L103.46,128.70 L103.55,129.09 L103.63,129.48 L103.72,129.87 L103.81,130.26 L103.89,130.65 L103.98,131.04 L104.07,131.43 L104.15,131.82 L104.24,132.21 L104.32,132.60 L104.41,132.99 L104.50,133.38 L104.58,133.77 L104.67,134.16 L104.76,134.55 L104.84,134.94 L104.93,135.33 L105.01,135.72 L105.10,136.11 L105.19,136.50 L105.27,136.89 L105.36,137.28 L105.45,137.67 L105.53,138.06 L105.62,138.45 L105.71,138.84 L105.79,139.23 L105.88,139.62 L105.97,140.01 L106.06,140.40 L106.14,140.79 L106.23,141.18 L106.32,141.57 L106.41,141.96 L106.49,142.35 L106.58,142.74 L106.67,143.13 L106.76,143.52 L106.85,143.91 L106.94,144.30 L107.02,144.69 L107.11,145.08 L107.20,145.47 L107.29,145.86 L107.38,146.25 L107.47,146.63 L107.56,147.02 L107.65,147.41 L107.74,147.80 L107.83,148.19 L107.92,148.58 L108.01,148.97 L108.11,149.36 L108.20,149.75 L108.29,150.14 L108.38,150.52 L108.47,150.91 L108.56,151.30 L108.66,151.69 L108.75,152.08 L108.84,152.47 L108.94,152.86 L109.03,153.25 L109.12,153.63 L109.22,154.02 L109.31,154.41 L109.41,154.80 L109.50,155.19 L109.60,155.58 L109.69,155.97 L109.79,156.35 L109.88,156.74 L109.98,157.13 L110.08,157.52 L110.17,157.91 L110.27,158.29 L110.37,158.68 L110.47,159.07 L110.56,159.46 L110.66,159.85 L110.76,160.23 L110.86,160.62 L110.96,161.01 L111.06,161.40 L111.16,161.79 L111.26,162.17 L111.36,162.56 L111.46,162.95 L111.56,163.34 L111.66,163.72 L111.77,164.11 L111.87,164.50 L111.97,164.89 L112.07,165.27 L112.18,165.66 L112.28,166.05 L112.39,166.43 L112.49,166.82 L112.60,167.21 L112.70,167.60 L112.81,167.98 L112.91,168.37 L113.02,168.76 L113.13,169.14 L113.23,169.53 L113.34,169.92 L113.45,170.30 L113.56,170.69 L113.67,171.08 L113.78,171.46 L113.89,171.85 L114.00,172.24 L114.11,172.62 L114.22,173.01 L114.33,173.39 L114.44,173.78 L114.56,174.17 L114.67,174.55 L114.78,174.94 L114.90,175.32 L115.01,175.71 L115.13,176.09 L115.24,176.47 L115.36,176.86 L115.47,177.24 L115.59,177.63 L115.71,178.01 L115.83,178.39 L115.94,178.77 L116.06,179.16 L116.18,179.54 L116.30,179.92 L116.42,180.30 L116.54,180.68 L116.66,181.06 L116.78,181.44 L116.90,181.82 L117.03,182.20 L117.15,182.58 L117.27,182.95 L117.40,183.33 L117.52,183.71 L117.65,184.08 L117.77,184.46 L117.90,184.83 L118.02,185.21 L118.15,185.58 L118.28,185.96 L118.41,186.33 L118.53,186.70 L118.66,187.08 L118.79,187.45 L118.92,187.82 L119.05,188.19 L119.18,188.57 L119.32,188.94 L119.45,189.31 L119.58,189.68 L119.71,190.06 L119.85,190.43 L119.98,190.80 L120.12,191.17 L120.25,191.55 L120.39,191.92 L120.52,192.30 L120.66,192.67 L120.80,193.05 L120.94,193.42 L121.08,193.80 L121.21,194.17 L121.35,194.55 L121.49,194.93 L121.64,195.31 L121.78,195.69 L121.92,196.07 L122.07,196.45 L122.21,196.83 L122.36,197.20 L122.51,197.58 L122.65,197.96 L122.80,198.34 L122.96,198.72 L123.11,199.10 L123.27,199.47 L123.42,199.85 L123.58,200.22 L123.74,200.60 L123.91,200.97 L124.07,201.34 L124.24,201.72 L124.41,202.08 L124.58,202.45 L124.75,202.82 L124.93,203.18 L125.11,203.55 L125.29,203.91 L125.47,204.27 L125.66,204.62 L125.85,204.98 L126.05,205.33 L126.24,205.68 L126.44,206.03 L126.65,206.38 L126.85,206.72 L127.06,207.06 L127.27,207.40 L127.49,207.73 L127.71,208.06 L127.94,208.39 L128.16,208.72 L128.40,209.04 L128.63,209.35 L128.87,209.67 L129.12,209.98 L129.37,210.29 L129.62,210.59 L129.88,210.89 L130.14,211.19 L130.40,211.48 L130.68,211.76 L130.95,212.05 L131.23,212.32 L131.52,212.60 L131.81,212.87 L132.10,213.13 L132.40,213.39 L132.71,213.64 L133.02,213.89 L133.34,214.14 L133.66,214.38 L133.99,214.61 L134.32,214.84 L134.66,215.06 L135.01,215.28 L135.36,215.49 L135.71,215.69 L136.07,215.88 L136.43,216.07 L136.80,216.25 L137.17,216.41 L137.55,216.57 L137.93,216.72 L138.31,216.86 L138.69,216.98 L139.08,217.09 L139.47,217.19 L139.86,217.28 L140.25,217.35 L140.64,217.41 L141.04,217.46 L141.43,217.49 L141.83,217.50 L142.23,217.50 L142.62,217.48 L143.02,217.46 L143.42,217.42 L143.82,217.37 L144.22,217.31 L144.62,217.24 L145.02,217.17 L145.41,217.09 L145.81,217.00 L146.21,216.91 L146.61,216.81 L147.01,216.71 L147.41,216.61 L147.81,216.51 L148.21,216.41 L148.61,216.31 L149.00,216.22 L149.40,216.12 L149.80,216.03 L150.19,215.95 L150.59,215.86 L150.98,215.79 L151.38,215.72 L151.77,215.66 L152.17,215.60 L152.56,215.56 L152.95,215.52 L153.35,215.49 L153.74,215.48 L154.13,215.47 L154.52,215.48 L154.91,215.49 L155.30,215.53 L155.68,215.57 L156.07,215.63 L156.46,215.71 L156.84,215.80 L157.23,215.90 L157.61,216.03 L158.00,216.17 L158.38,216.33 L158.76,216.51 L159.14,216.71 L159.52,216.91 L159.90,217.11 L160.28,217.31 L160.66,217.50 L161.03,217.67 L161.41,217.82 L161.78,217.93 L162.15,218.01 L162.52,218.05 L162.89,218.03 L163.26,217.97 L163.62,217.86 L163.97,217.70 L164.32,217.51 L164.65,217.28 L164.97,217.03 L165.28,216.75 L165.57,216.45 L165.84,216.14 L166.09,215.82 L166.33,215.48 L166.54,215.14 L166.75,214.78 L166.94,214.42 L167.12,214.05 L167.29,213.67 L167.45,213.29 L167.61,212.91 L167.76,212.52 L167.90,212.13 L168.04,211.75 L168.18,211.36 L168.32,210.98 L168.46,210.60 L168.60,210.23 L168.75,209.86 L168.89,209.49 L169.04,209.12 L169.19,208.76 L169.33,208.40 L169.48,208.05 L169.63,207.69 L169.77,207.33 L169.92,206.97 L170.06,206.61 L170.20,206.25 L170.34,205.89 L170.47,205.52 L170.60,205.15 L170.73,204.78 L170.86,204.41 L170.99,204.03 L171.11,203.65 L171.23,203.27 L171.35,202.89 L171.47,202.51 L171.58,202.12 L171.70,201.73 L171.81,201.34 L171.93,200.95 L172.04,200.56 L172.15,200.17 L172.26,199.78 L172.38,199.39 L172.49,198.99 L172.60,198.60 L172.71,198.20 L172.82,197.81 L172.94,197.41 L173.05,197.02 L173.17,196.62 L173.28,196.23 L173.40,195.84 L173.52,195.45 L173.64,195.05 L173.76,194.66 L173.88,194.27 L174.01,193.89 L174.14,193.50 L174.27,193.12 L174.41,192.73 L174.54,192.35 L174.68,191.97 L174.82,191.59 L174.97,191.22 L175.12,190.85 L175.27,190.48 L175.43,190.11 L175.59,189.75 L175.76,189.39 L175.93,189.03 L176.10,188.67 L176.28,188.32 L176.46,187.97 L176.65,187.63 L176.85,187.29 L177.05,186.95 L177.25,186.62 L177.46,186.29 L177.68,185.97 L177.90,185.65 L178.13,185.34 L178.36,185.02 L178.60,184.72 L178.84,184.41 L179.09,184.11 L179.34,183.81 L179.60,183.52 L179.86,183.22 L180.12,182.93 L180.38,182.64 L180.65,182.34 L180.92,182.05 L181.19,181.76 L181.47,181.47 L181.74,181.18 L182.02,180.89 L182.30,180.60 L182.57,180.30 L182.85,180.01 L183.13,179.71 L183.41,179.41 L183.68,179.10 L183.96,178.80 L184.24,178.50 L184.51,178.19 L184.79,177.89 L185.07,177.58 L185.35,177.27 L185.63,176.97 L185.91,176.67 L186.19,176.36 L186.48,176.06 L186.76,175.76 L187.05,175.46 L187.34,175.17 L187.63,174.88 L187.92,174.59 L188.21,174.30 L188.51,174.02 L188.80,173.74 L189.10,173.47 L189.41,173.20 L189.71,172.93 L190.02,172.67 L190.33,172.42 L190.64,172.17 L190.96,171.93 L191.28,171.69 L191.60,171.46 L191.93,171.24 L192.26,171.02 L192.59,170.82 L192.93,170.62 L193.27,170.43 L193.62,170.25 L193.97,170.07 L194.32,169.91 L194.68,169.75 L195.04,169.60 L195.40,169.46 L195.77,169.33 L196.14,169.21 L196.52,169.09 L196.89,168.99 L197.27,168.89 L197.65,168.79 L198.04,168.71 L198.42,168.63 L198.81,168.56 L199.20,168.50 L199.60,168.45 L199.99,168.40 L200.39,168.36 L200.78,168.33 L201.18,168.30 L201.58,168.28 L201.98,168.27 L202.38,168.27 L202.79,168.27 L203.19,168.28 L203.59,168.29 L203.99,168.31 L204.40,168.34 L204.80,168.37 L205.20,168.41 L205.61,168.46 L206.01,168.51 L206.41,168.57 L206.81,168.63 L207.21,168.70 L207.61,168.77 L208.01,168.85 L208.41,168.94 L208.80,169.03 L209.19,169.12 L209.59,169.23 L209.98,169.33 L210.36,169.44 L210.75,169.56 L211.13,169.68 L211.51,169.81 L211.89,169.94 L212.27,170.07 L212.65,170.21 L213.02,170.35 L213.39,170.49 L213.76,170.64 L214.13,170.79 L214.50,170.94 L214.87,171.10 L215.24,171.26 L215.60,171.42 L215.97,171.58 L216.33,171.74 L216.70,171.91 L217.06,172.08 L217.42,172.24 L217.78,172.41 L218.14,172.58 L218.51,172.75 L218.87,172.92 L219.23,173.09 L219.59,173.26 L219.95,173.43 L220.31,173.59 L220.68,173.76 L221.04,173.93 L221.40,174.09 L221.77,174.25 L222.13,174.42 L222.50,174.57 L222.86,174.73 L223.23,174.89 L223.60,175.04 L223.97,175.19 L224.34,175.33 L224.71,175.48 L225.09,175.62 L225.46,175.75 L225.84,175.89 L226.21,176.03 L226.59,176.16 L226.97,176.29 L227.35,176.42 L227.72,176.55 L228.10,176.68 L228.48,176.81 L228.86,176.94 L229.24,177.07 L229.62,177.20 L230.00,177.33 L230.38,177.46 L230.76,177.59 L231.14,177.73 L231.51,177.86 L231.89,178.00 L232.27,178.14 L232.64,178.27 L233.02,178.41 L233.40,178.55 L233.77,178.69 L234.15,178.83 L234.53,178.98 L234.90,179.12 L235.28,179.26 L235.65,179.40 L236.03,179.55 L236.40,179.69 L236.78,179.83 L237.15,179.98 L237.53,180.12 L237.90,180.26 L238.28,180.40 L238.65,180.54 L239.03,180.69 L239.40,180.83 L239.78,180.97 L240.15,181.10 L240.53,181.24 L240.91,181.38 L241.28,181.51 L241.66,181.65 L242.04,181.78 L242.41,181.91 L242.79,182.04 L243.17,182.17 L243.55,182.30 L243.93,182.42 L244.31,182.55 L244.69,182.67 L245.07,182.79 L245.45,182.90 L245.83,183.02 L246.21,183.13 L246.59,183.24 L246.98,183.35 L247.36,183.45 L247.74,183.56 L248.13,183.66 L248.51,183.75 L248.90,183.85 L249.29,183.94 L249.68,184.02 L250.06,184.11 L250.45,184.19 L250.84,184.27 L251.23,184.34 L251.63,184.41 L252.02,184.48 L252.41,184.54 L252.81,184.60 L253.20,184.66 L253.60,184.71 L254.00,184.77 L254.39,184.82 L254.79,184.87 L255.19,184.92 L255.59,184.97 L255.98,185.02 L256.38,185.07 L256.78,185.12 L257.18,185.18 L257.58,185.23 L257.98,185.28 L258.38,185.34 L258.78,185.39 L259.18,185.45 L259.58,185.51 L259.97,185.58 L260.37,185.64 L260.77,185.71 L261.17,185.78 L261.57,185.85 L261.96,185.92 L262.36,186.00 L262.76,186.06 L263.16,186.13 L263.56,186.19 L263.95,186.25 L264.35,186.30 L264.75,186.35 L265.15,186.40 L265.54,186.44 L265.94,186.48 L266.34,186.52 L266.74,186.55 L267.14,186.58 L267.53,186.60 L267.93,186.62 L268.33,186.64 L268.73,186.65 L269.13,186.66 L269.52,186.67 L269.92,186.67 L270.32,186.67 L270.72,186.67 L271.12,186.67 L271.51,186.66 L271.91,186.65 L272.31,186.64 L272.71,186.62 L273.11,186.60 L273.50,186.58 L273.90,186.56 L274.30,186.54 L274.70,186.51 L275.10,186.48 L275.49,186.45 L275.89,186.41 L276.29,186.38 L276.69,186.34 L277.09,186.30 L277.48,186.26 L277.88,186.22 L278.28,186.17 L278.68,186.13 L279.08,186.08 L279.47,186.03 L279.87,185.98 L280.27,185.93 L280.67,185.88 L281.07,185.82 L281.46,185.77 L281.86,185.71 L282.26,185.66 L282.66,185.60 L283.05,185.54 L283.45,185.48 L283.85,185.42 L284.25,185.36 L284.64,185.30 L285.04,185.24 L285.44,185.18 L285.83,185.12 L286.23,185.06 L286.63,185.00 L287.02,184.94 L287.42,184.88 L287.82,184.82 L288.21,184.75 L288.61,184.69 L289.01,184.63 L289.40,184.57 L289.80,184.51 L290.20,184.46 L290.59,184.40 L290.99,184.34 L291.38,184.28 L291.78,184.22 L292.18,184.17 L292.57,184.11 L292.97,184.05 L293.36,184.00 L293.76,183.94 L294.16,183.89 L294.55,183.83 L294.95,183.78 L295.34,183.72 L295.74,183.67 L296.13,183.62 L296.53,183.56 L296.92,183.51 L297.32,183.46 L297.71,183.41 L298.11,183.35 L298.51,183.30 L298.90,183.25 L299.30,183.20 L299.69,183.15 L300.09,183.10 L300.48,183.05 L300.88,182.99 L301.27,182.94 L301.67,182.89 L302.07,182.84 L302.46,182.79 L302.86,182.74 L303.25,182.69 L303.65,182.65 L304.04,182.60 L304.44,182.55 L304.84,182.50 L305.23,182.45 L305.63,182.40 L306.02,182.35 L306.42,182.30 L306.82,182.25 L307.21,182.20 L307.61,182.16 L308.00,182.11 L308.40,182.06 L308.80,182.01 L309.19,181.96 L309.59,181.91 L309.99,181.86 L310.38,181.81 L310.78,181.77 L311.18,181.72 L311.58,181.67 L311.97,181.62 L312.37,181.57 L312.77,181.52 L313.17,181.47 L313.56,181.42 L313.96,181.37 L314.36,181.32 L314.76,181.27 L315.16,181.23 L315.56,181.18 L315.96,181.13 L316.35,181.08 L316.75,181.02 L317.15,180.97 L317.55,180.92 L317.95,180.87 L318.35,180.82 L318.75,180.77 L319.15,180.72 L319.55,180.67 L319.94,180.62 L320.34,180.57 L320.74,180.51 L321.14,180.46 L321.54,180.41 L321.94,180.36 L322.33,180.31 L322.73,180.25 L323.13,180.20 L323.53,180.15 L323.92,180.10 L324.32,180.04 L324.72,179.99 L325.11,179.94 L325.51,179.88 L325.90,179.83 L326.30,179.78 L326.69,179.72 L327.08,179.67 L327.48,179.61 L327.87,179.56 L328.26,179.50 L328.65,179.45 L329.04,179.39 L329.43,179.34 L329.82,179.28 L330.21,179.23 L330.60,179.17 L330.99,179.12 L331.38,179.07 L331.77,179.02 L332.16,178.97 L332.55,178.92 L332.95,178.88 L333.35,178.84 L333.75,178.80 L334.15,178.77 L334.56,178.75 L334.97,178.73 L335.39,178.72 L335.81,178.71 L336.23,178.70 L336.65,178.68 L337.07,178.66 L337.48,178.62 L337.88,178.57 L338.28,178.50 L338.66,178.40 L339.03,178.28 L339.39,178.12 L339.73,177.94 L340.05,177.73 L340.36,177.49 L340.66,177.24 L340.95,176.96 L341.22,176.67 L341.48,176.37 L341.72,176.05 L341.96,175.73 L342.18,175.40 L342.39,175.06 L342.59,174.72 L342.78,174.37 L342.96,174.02 L343.13,173.66 L343.29,173.30 L343.44,172.94 L343.59,172.57 L343.72,172.19 L343.85,171.82 L343.98,171.44 L344.09,171.05 L344.20,170.67 L344.31,170.28 L344.40,169.89 L344.50,169.50 L344.59,169.11 L344.68,168.71 L344.76,168.32 L344.84,167.92 L344.92,167.53 L345.00,167.13 L345.07,166.73 L345.15,166.34 L345.22,165.94 L345.29,165.54 L345.36,165.15 L345.43,164.75 L345.50,164.35 L345.56,163.96 L345.63,163.56 L345.69,163.16 L345.75,162.76 L345.81,162.37 L345.87,161.97 L345.93,161.57 L345.99,161.18 L346.04,160.78 L346.10,160.38 L346.15,159.99 L346.21,159.59 L346.26,159.19 L346.31,158.79 L346.36,158.40 L346.41,158.00 L346.45,157.60 L346.50,157.21 L346.55,156.81 L346.59,156.41 L346.64,156.01 L346.68,155.62 L346.72,155.22 L346.77,154.82 L346.81,154.42 L346.85,154.03 L346.89,153.63 L346.93,153.23 L346.97,152.84 L347.01,152.44 L347.04,152.04 L347.08,151.64 L347.12,151.25 L347.15,150.85 L347.19,150.45 L347.23,150.05 L347.26,149.66 L347.30,149.26 L347.33,148.86 L347.37,148.46 L347.40,148.07 L347.43,147.67 L347.47,147.27 L347.50,146.87 L347.53,146.47 L347.57,146.08 L347.60,145.68 L347.63,145.28 L347.67,144.88 L347.70,144.49 L347.73,144.09 L347.76,143.69 L347.80,143.29 L347.83,142.90 L347.86,142.50 L347.90,142.10 L347.93,141.70 L347.96,141.30 L348.00,140.91 L348.03,140.51 L348.07,140.11 L348.10,139.71 L348.14,139.32 L348.17,138.92 L348.21,138.52 L348.24,138.12 L348.28,137.73 L348.32,137.33 L348.35,136.93 L348.39,136.53 L348.43,136.13 L348.47,135.74 L348.51,135.34 L348.55,134.94 L348.59,134.54 L348.63,134.15 L348.68,133.75 L348.72,133.35 L348.76,132.95 L348.81,132.56 L348.85,132.16 L348.90,131.76 L348.95,131.36 L348.99,130.96 L349.04,130.57 L349.09,130.17 L349.14,129.77 L349.20,129.37 L349.25,128.98 L349.30,128.58 L349.36,128.18 L349.41,127.78 L349.47,127.39 L349.53,126.99 L349.59,126.59 L349.65,126.19 L349.71,125.80 L349.77,125.40 L349.84,125.00 L349.91,124.60 L349.91,124.59" fill="none" stroke="#14ff14" stroke-width="1.2" stroke-linejoin="round"/>
<line x1="28" y1="174.75" x2="351" y2="174.75" stroke="#ff30ff" stroke-width="1.4"/>
<line x1="108.0" y1="0" x2="56.7" y2="247" stroke="#ff0000" stroke-width="1.15"/>
</g>
<g fill="none" stroke="#000" stroke-width="2">
<rect x="59.9" y="170.95" width="7" height="7"/>
<circle cx="72" cy="166.2" r="4.8"/>
<path d="M108.7,26.1 L119.7,26.1 L114.2,35.9 Z" stroke-linejoin="miter"/>
<path d="M76.25,127.50 H86.85 M81.55,122.20 V132.80 M77.80,123.75 L85.30,131.25 M77.80,131.25 L85.30,123.75" stroke-linecap="butt"/>
</g>

<path d="M20.6,25 V34.9 H19.3 V27.3 C18.7,27.75 17.8,28 17.0,28 V26.85 C17.9,26.6 18.8,25.95 19.3,25 Z" fill="#262626"/>
<g class="t" text-anchor="end">
<text x="23.5" y="107.1">0.5</text>
<text x="23.5" y="179.6">0</text>
<text x="23.5" y="252.6">-0.5</text>
</g>
<g class="t" text-anchor="middle">
<text x="28.5" y="266.7">0</text>
<text x="96.5" y="266.7">0.2</text>
<text x="163.9" y="266.7">0.4</text>
<text x="231.6" y="266.7">0.6</text>
<text x="299.4" y="266.7">0.8</text>
<text x="189" y="285.2">time [s]</text>
</g>
</svg>
</body></html>
